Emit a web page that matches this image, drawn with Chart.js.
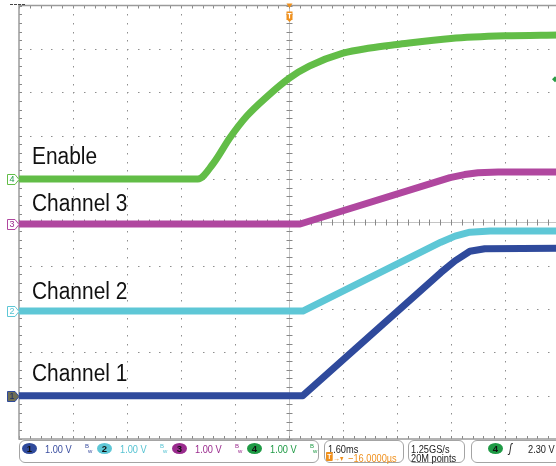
<!DOCTYPE html>
<html>
<head>
<meta charset="utf-8">
<script src="https://cdn.jsdelivr.net/npm/chart.js@4.4.1/dist/chart.umd.min.js"></script>
<style>
  body { margin: 0; background: #fff; }
  #wrap { position: relative; width: 556px; height: 466px; overflow: hidden; font-family: "Liberation Sans", Arial, sans-serif; }
  #scope { position: absolute; left: 0; top: 0; }
  .lbl { position: absolute; left: 31.5px; font-size: 23.5px; line-height: 23.5px; color: #111; white-space: nowrap; transform: scaleX(0.89); transform-origin: left top; }
  .box { position: absolute; top: 440px; height: 23px; border: 1px solid #a4a4a4; border-radius: 6px; box-sizing: border-box; }
  .t { position: absolute; font-size: 11px; line-height: 11px; white-space: nowrap; transform: scaleX(0.84); transform-origin: left top; }
  .badge { position: absolute; top: 442.5px; width: 15px; height: 11px; border-radius: 50%; font-size: 9.5px; line-height: 11px; text-align: center; color: #111; font-weight: bold; }
  .bw { position: absolute; top: 443px; font-size: 6px; line-height: 6px; }
</style>
</head>
<body>
<div id="wrap">
  <canvas id="scope" width="562" height="441"></canvas>

  <div class="lbl" style="top:145px">Enable</div>
  <div class="lbl" style="top:192px">Channel 3</div>
  <div class="lbl" style="top:280px">Channel 2</div>
  <div class="lbl" style="top:362px">Channel 1</div>

  <div class="box" style="left:19px; width:300px"></div>
  <div class="box" style="left:324px; width:80px"></div>
  <div class="box" style="left:408px; width:57px"></div>
  <div class="box" style="left:471px; width:95px"></div>
  <div id="status"></div>
</div>

<script>
// time axis in ms, scope traces in volts
const timeEnable = [-8, -2.7, -2.25, -1.75, -1.25, -0.65, 0, 0.6, 1.6, 2.4, 3.2, 4.8, 6.4, 8];
const voltsEnable = [0, 0, 0.35, 0.95, 1.45, 1.9, 2.32, 2.6, 2.9, 3.02, 3.1, 3.24, 3.3, 3.32];

const timeCh3 = [-8, 0.33, 4.77, 5.2, 5.6, 6.2, 8];
const voltsCh3 = [0, 0, 1.07, 1.14, 1.18, 1.2, 1.2];

const timeCh2 = [-8, 0.41, 4.5, 4.92, 5.36, 5.96, 8];
const voltsCh2 = [0, 0, 1.59, 1.73, 1.82, 1.85, 1.85];

const timeCh1 = [-8, 0.41, 4.5, 4.92, 5.36, 5.8, 8];
const voltsCh1 = [0, 0, 2.84, 3.11, 3.33, 3.39, 3.4];

const channelNames = ['1', '2', '3', '4'];
const channelScales = ['1.00 V', '1.00 V', '1.00 V', '1.00 V'];
const channelOffsets = [-4.0, -2.05, -0.04, 1.0]; // divisions
const msPerDiv = 1.6;
const voltsPerDiv = 1.0;
const triggerLevel = 2.30; // volts on ch 4
const timebaseText = ['1.60ms', '\u221216.0000\u00b5s'];
const acqText = ['1.25GS/s', '20M points'];

const colors = ['#2f4a9c', '#5ec7d6', '#b0479f', '#62bd47'];
const textColors = ['#3a4ea0', '#56c3d2', '#9a2b8e', '#1f9a45'];
const badgeColors = ['#2f4a9c', '#5ec7d6', '#9a2b8e', '#1f9a45'];

function toPoints(times, volts, ch) {
    return times.map((t, i) => ({ x: t, y: volts[i] / voltsPerDiv + channelOffsets[ch] }));
}

// graticule: dotted divisions, center crosshair with ticks, border with ticks
const graticule = {
    id: 'graticule',
    beforeDatasetsDraw(chart) {
        const { ctx, chartArea: a, scales: { x, y } } = chart;
        ctx.save();
        ctx.fillStyle = '#8e8e8e';
        for (let i = -4; i <= 4; i++) {
            if (i === 0) continue;
            const px = Math.round(x.getPixelForValue(i * msPerDiv));
            for (let j = 1; j < 50; j++) {
                const py = Math.round(y.getPixelForValue(-5 + j * 0.2));
                ctx.fillRect(px, py, 1, 1.5);
            }
        }
        for (let i = -4; i <= 4; i++) {
            if (i === 0) continue;
            const py = Math.round(y.getPixelForValue(i));
            for (let j = 1; j < 50; j++) {
                const px = Math.round(x.getPixelForValue(-8 + j * 0.2 * msPerDiv));
                ctx.fillRect(px, py, 1.5, 1);
            }
        }
        // center lines
        const cx = Math.round(x.getPixelForValue(0)) + 0.5;
        const cy = Math.round(y.getPixelForValue(0)) + 0.5;
        ctx.strokeStyle = '#c4c4c4';
        ctx.lineWidth = 1;
        ctx.beginPath();
        ctx.moveTo(cx, a.top); ctx.lineTo(cx, a.bottom);
        ctx.moveTo(a.left, cy); ctx.lineTo(a.right, cy);
        ctx.stroke();
        ctx.strokeStyle = '#888';
        ctx.beginPath();
        for (let j = 0; j <= 50; j++) {
            const py = Math.round(y.getPixelForValue(-5 + j * 0.2)) + 0.5;
            ctx.moveTo(cx - 3, py); ctx.lineTo(cx + 3, py);
            const px = Math.round(x.getPixelForValue(-8 + j * 0.2 * msPerDiv)) + 0.5;
            ctx.moveTo(px, cy - 3); ctx.lineTo(px, cy + 3);
            // border ticks
            ctx.moveTo(px, a.top); ctx.lineTo(px, a.top + 3);
            ctx.moveTo(px, a.bottom); ctx.lineTo(px, a.bottom - 3);
            ctx.moveTo(a.left, py); ctx.lineTo(a.left + 3, py);
        }
        ctx.stroke();
        ctx.strokeStyle = '#9a9a9a';
        ctx.lineWidth = 1.5;
        ctx.strokeRect(a.left, a.top, a.right - a.left, a.bottom - a.top);
        // small indicator top-left
        ctx.strokeStyle = '#444';
        ctx.lineWidth = 1;
        ctx.setLineDash([3, 1]);
        ctx.beginPath(); ctx.moveTo(10, 4.5); ctx.lineTo(25, 4.5); ctx.stroke();
        ctx.restore();
    },
    afterDatasetsDraw(chart) {
        const { ctx, scales: { x, y } } = chart;
        ctx.save();
        // channel ground markers
        for (let ch = 0; ch < 4; ch++) {
            const py = Math.round(y.getPixelForValue(channelOffsets[ch])) + 0.5;
            ctx.beginPath();
            ctx.moveTo(7.5, py - 5); ctx.lineTo(15, py - 5); ctx.lineTo(19, py);
            ctx.lineTo(15, py + 5); ctx.lineTo(7.5, py + 5); ctx.closePath();
            ctx.fillStyle = ch === 0 ? '#6f6f55' : '#fff';
            ctx.fill();
            ctx.strokeStyle = colors[ch];
            ctx.lineWidth = 1;
            ctx.stroke();
            ctx.fillStyle = ch === 0 ? '#1d2d6a' : textColors[ch];
            ctx.font = '9px "Liberation Sans", Arial';
            ctx.textAlign = 'center';
            ctx.textBaseline = 'middle';
            ctx.fillText(channelNames[ch], 12, py + 0.5);
        }
        // trigger position marker
        const tx = Math.round(x.getPixelForValue(0)) + 0.5;
        ctx.fillStyle = '#f0901c';
        ctx.beginPath();
        ctx.moveTo(tx - 3, 3.5); ctx.lineTo(tx + 3, 3.5); ctx.lineTo(tx, 8); ctx.closePath();
        ctx.fill();
        ctx.fillRect(tx - 3, 11.5, 6, 8.5);
        ctx.beginPath();
        ctx.moveTo(tx - 2, 20); ctx.lineTo(tx + 2, 20); ctx.lineTo(tx, 22); ctx.closePath();
        ctx.fill();
        ctx.fillStyle = '#fff';
        ctx.fillRect(tx - 2, 13, 4, 1.2);
        ctx.fillRect(tx - 0.6, 13, 1.2, 5.5);
        // trigger level marker (ch 4)
        const ly = y.getPixelForValue(triggerLevel / voltsPerDiv + channelOffsets[3]);
        ctx.fillStyle = '#2a9a45';
        ctx.beginPath();
        ctx.moveTo(552, ly); ctx.lineTo(555, ly - 3); ctx.lineTo(558, ly); ctx.lineTo(555, ly + 3); ctx.closePath();
        ctx.fill();
        ctx.restore();
    }
};

const ctx = document.getElementById('scope').getContext('2d');
new Chart(ctx, {
    type: 'line',
    data: {
        datasets: [
            { label: 'Channel 1', data: toPoints(timeCh1, voltsCh1, 0), borderColor: colors[0] },
            { label: 'Channel 2', data: toPoints(timeCh2, voltsCh2, 1), borderColor: colors[1] },
            { label: 'Channel 3', data: toPoints(timeCh3, voltsCh3, 2), borderColor: colors[2] },
            { label: 'Enable', data: toPoints(timeEnable, voltsEnable, 3), borderColor: colors[3], cubicInterpolationMode: 'monotone' }
        ].map(d => Object.assign(d, {
            borderWidth: 7, pointRadius: 0, fill: false, borderCapStyle: 'butt', borderJoinStyle: 'round'
        }))
    },
    options: {
        responsive: false,
        animation: false,
        events: [],
        layout: { padding: { left: 19, top: 5.5, right: 3, bottom: 2 } },
        scales: {
            x: { type: 'linear', min: -5 * msPerDiv, max: 5 * msPerDiv, display: false },
            y: { type: 'linear', min: -5, max: 5, display: false }
        },
        plugins: { legend: { display: false }, tooltip: { enabled: false } }
    },
    plugins: [graticule]
});

// status bar
const status = document.getElementById('status');
function addText(cls, left, top, text, color, extra) {
    const el = document.createElement('div');
    el.className = cls;
    el.style.left = left + 'px';
    el.style.top = top + 'px';
    el.style.color = color;
    if (extra) Object.assign(el.style, extra);
    el.textContent = text;
    status.appendChild(el);
    return el;
}
channelNames.forEach((n, i) => {
    const x0 = 22 + i * 75;
    addText('badge', x0, 442.5, n, '#111', { background: badgeColors[i] });
    addText('t', x0 + 23, 443.5, channelScales[i], textColors[i]);
    addText('bw', x0 + 63, 443, 'B', textColors[i]);
    addText('bw', x0 + 66, 448, 'w', textColors[i]);
});
addText('t', 328, 443.5, timebaseText[0], '#222');
addText('t', 325.5, 452, 'T', '#fff', { background: '#f0901c', fontSize: '8px', lineHeight: '9px', padding: '0 1.5px', borderRadius: '1px', fontWeight: 'bold' });
addText('t', 333, 452.5, '\u2192\u25be', '#f0901c', { fontSize: '8px' });
addText('t', 347.5, 452.5, timebaseText[1], '#f0901c');
addText('t', 411, 443.5, acqText[0], '#222');
addText('t', 411, 452.5, acqText[1], '#222');
addText('badge', 488, 442.5, '4', '#111', { background: '#1f9a45' });
addText('t', 509, 443, '\u0283', '#222', { fontStyle: 'italic', fontSize: '12px' });
addText('t', 527.5, 443.5, triggerLevel.toFixed(2) + ' V', '#222');
</script>
</body>
</html>
